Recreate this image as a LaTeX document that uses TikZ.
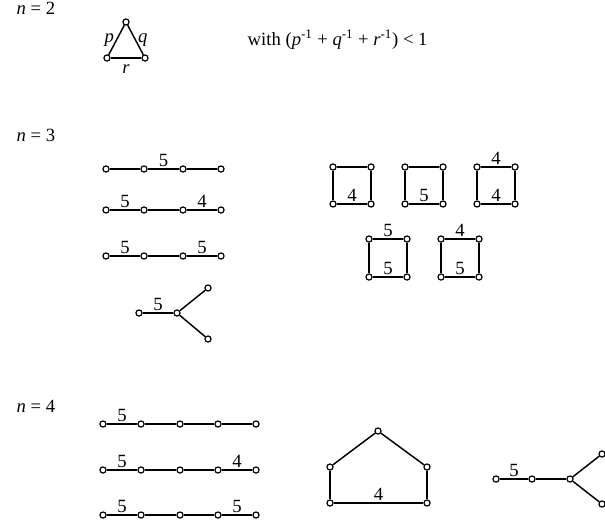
\documentclass[tikz,border=0pt]{standalone}
\usepackage{fontspec}
\setmainfont{Liberation Serif}
\usetikzlibrary{positioning}
\tikzset{
  vtx/.style={circle, draw, line width=0.9pt, fill=white, inner sep=0pt, minimum size=4.6pt},
  bond/.style={line width=1.1pt},
  wt/.style={midway, above, inner sep=1pt}
}

\begin{document}
\begin{tikzpicture}[x=0.75pt, y=-0.75pt, font=\fontsize{14}{16}\selectfont]
  \useasboundingbox (0,0) rectangle (605,525);

  % n = 2
  \node[anchor=base west] (lab2) at (12,14) {\textit{n} = 2};
  \node[vtx] (t1) at (126,22) {};
  \node[vtx] (t2) at (107,58) {};
  \node[vtx] (t3) at (145,58) {};
  \draw[bond] (t2) -- (t1) node[midway, left=-2pt] {\textit{p}};
  \draw[bond] (t1) -- (t3) node[midway, right=-2pt] {\textit{q}};
  \draw[bond] (t2) -- (t3) node[midway, below=1pt] {\textit{r}};
  \node[anchor=base west] (cond) at (243,45)
    {with (\textit{p}\textsuperscript{-1} + \textit{q}\textsuperscript{-1} + \textit{r}\textsuperscript{-1}) < 1};

  % n = 3
  \node[anchor=base west] (lab3) at (12,141) {\textit{n} = 3};
  \node[vtx] (a1) at (106,169) {}; \node[vtx] (a2) at (144,169) {};
  \node[vtx] (a3) at (183,169) {}; \node[vtx] (a4) at (221,169) {};
  \draw[bond] (a1) -- (a2);
  \draw[bond] (a2) -- (a3) node[wt] {5};
  \draw[bond] (a3) -- (a4);

  \node[vtx] (b1) at (106,210) {}; \node[vtx] (b2) at (144,210) {};
  \node[vtx] (b3) at (183,210) {}; \node[vtx] (b4) at (221,210) {};
  \draw[bond] (b1) -- (b2) node[wt] {5};
  \draw[bond] (b2) -- (b3);
  \draw[bond] (b3) -- (b4) node[wt] {4};

  \node[vtx] (c1) at (106,256) {}; \node[vtx] (c2) at (144,256) {};
  \node[vtx] (c3) at (183,256) {}; \node[vtx] (c4) at (221,256) {};
  \draw[bond] (c1) -- (c2) node[wt] {5};
  \draw[bond] (c2) -- (c3);
  \draw[bond] (c3) -- (c4) node[wt] {5};

  \node[vtx] (y1) at (139,313) {}; \node[vtx] (y2) at (177,313) {};
  \node[vtx] (y3) at (208,288) {}; \node[vtx] (y4) at (208,339) {};
  \draw[bond] (y1) -- (y2) node[wt] {5};
  \draw[bond] (y2) -- (y3);
  \draw[bond] (y2) -- (y4);

  % squares
  \node[vtx] (s1a) at (333,167) {}; \node[vtx] (s1b) at (371,167) {};
  \node[vtx] (s1c) at (371,204) {}; \node[vtx] (s1d) at (333,204) {};
  \draw[bond] (s1a) -- (s1b); \draw[bond] (s1b) -- (s1c);
  \draw[bond] (s1d) -- (s1c) node[wt] {4}; \draw[bond] (s1a) -- (s1d);

  \node[vtx] (s2a) at (405,167) {}; \node[vtx] (s2b) at (443,167) {};
  \node[vtx] (s2c) at (443,204) {}; \node[vtx] (s2d) at (405,204) {};
  \draw[bond] (s2a) -- (s2b); \draw[bond] (s2b) -- (s2c);
  \draw[bond] (s2d) -- (s2c) node[wt] {5}; \draw[bond] (s2a) -- (s2d);

  \node[vtx] (s3a) at (477,167) {}; \node[vtx] (s3b) at (515,167) {};
  \node[vtx] (s3c) at (515,204) {}; \node[vtx] (s3d) at (477,204) {};
  \draw[bond] (s3a) -- (s3b) node[wt] {4}; \draw[bond] (s3b) -- (s3c);
  \draw[bond] (s3d) -- (s3c) node[wt] {4}; \draw[bond] (s3a) -- (s3d);

  \node[vtx] (s4a) at (369,239) {}; \node[vtx] (s4b) at (407,239) {};
  \node[vtx] (s4c) at (407,277) {}; \node[vtx] (s4d) at (369,277) {};
  \draw[bond] (s4a) -- (s4b) node[wt] {5}; \draw[bond] (s4b) -- (s4c);
  \draw[bond] (s4d) -- (s4c) node[wt] {5}; \draw[bond] (s4a) -- (s4d);

  \node[vtx] (s5a) at (441,239) {}; \node[vtx] (s5b) at (479,239) {};
  \node[vtx] (s5c) at (479,277) {}; \node[vtx] (s5d) at (441,277) {};
  \draw[bond] (s5a) -- (s5b) node[wt] {4}; \draw[bond] (s5b) -- (s5c);
  \draw[bond] (s5d) -- (s5c) node[wt] {5}; \draw[bond] (s5a) -- (s5d);

  % n = 4
  \node[anchor=base west] (lab4) at (12,412) {\textit{n} = 4};
  \node[vtx] (d1) at (103,424) {}; \node[vtx] (d2) at (141,424) {};
  \node[vtx] (d3) at (180,424) {}; \node[vtx] (d4) at (218,424) {};
  \node[vtx] (d5) at (256,424) {};
  \draw[bond] (d1) -- (d2) node[wt] {5};
  \draw[bond] (d2) -- (d3); \draw[bond] (d3) -- (d4); \draw[bond] (d4) -- (d5);

  \node[vtx] (e1) at (103,470) {}; \node[vtx] (e2) at (141,470) {};
  \node[vtx] (e3) at (180,470) {}; \node[vtx] (e4) at (218,470) {};
  \node[vtx] (e5) at (256,470) {};
  \draw[bond] (e1) -- (e2) node[wt] {5};
  \draw[bond] (e2) -- (e3); \draw[bond] (e3) -- (e4);
  \draw[bond] (e4) -- (e5) node[wt] {4};

  \node[vtx] (f1) at (103,515) {}; \node[vtx] (f2) at (141,515) {};
  \node[vtx] (f3) at (180,515) {}; \node[vtx] (f4) at (218,515) {};
  \node[vtx] (f5) at (256,515) {};
  \draw[bond] (f1) -- (f2) node[wt] {5};
  \draw[bond] (f2) -- (f3); \draw[bond] (f3) -- (f4);
  \draw[bond] (f4) -- (f5) node[wt] {5};

  % pentagon
  \node[vtx] (p1) at (378,431) {};
  \node[vtx] (p2) at (427,467) {}; \node[vtx] (p3) at (427,503) {};
  \node[vtx] (p4) at (330,503) {}; \node[vtx] (p5) at (330,467) {};
  \draw[bond] (p1) -- (p2); \draw[bond] (p2) -- (p3);
  \draw[bond] (p4) -- (p3) node[wt] {4};
  \draw[bond] (p4) -- (p5); \draw[bond] (p5) -- (p1);

  % branched tree
  \node[vtx] (g1) at (496,479) {}; \node[vtx] (g2) at (532,479) {};
  \node[vtx] (g3) at (570,479) {};
  \node[vtx] (g4) at (602,454) {}; \node[vtx] (g5) at (602,504) {};
  \draw[bond] (g1) -- (g2) node[wt] {5};
  \draw[bond] (g2) -- (g3);
  \draw[bond] (g3) -- (g4); \draw[bond] (g3) -- (g5);
\end{tikzpicture}
\end{document}
